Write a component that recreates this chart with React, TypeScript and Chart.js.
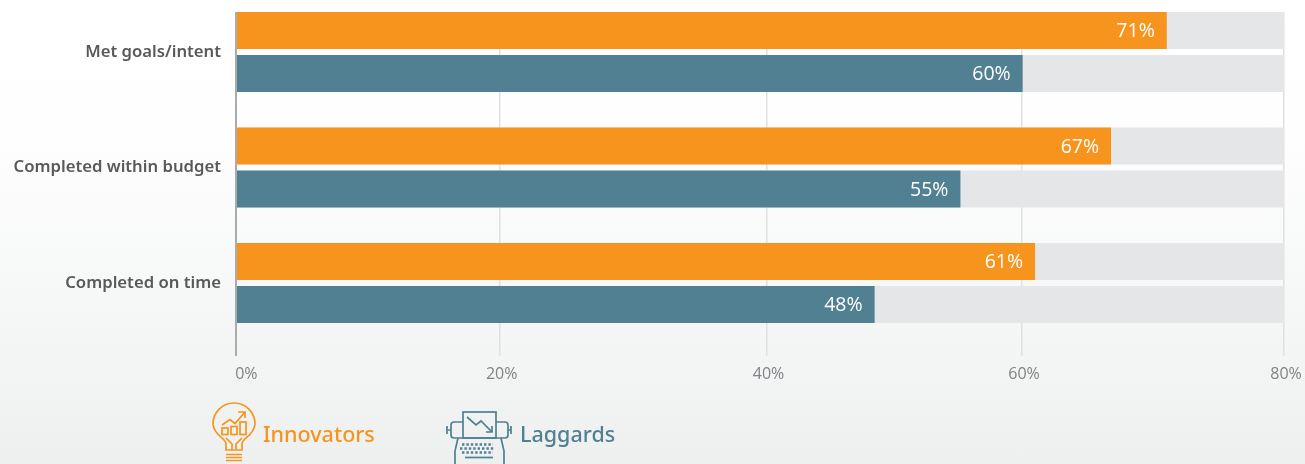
import React, { useEffect, useRef } from "react";
import { Chart, registerables } from "chart.js";

Chart.register(...registerables);

const categories = ["Met goals/intent", "Completed within budget", "Completed on time"];
const rowPositions = [0, 1, 2];
const innovators = [71.05, 66.8, 61];
const laggards = [60.05, 55.3, 48.75];
const innovatorLabels = ["71%", "67%", "61%"];
const laggardLabels = ["60%", "55%", "48%"];
const trackValues = [80, 80, 80];
const tickPositions = [0, 20.13, 40.5, 60, 80];
const tickLabels = ["\u00a0\u00a0\u00a0\u00a00%", "20%", "40%", "60%", "80%"];

const ORANGE = "#f7941d";
const TEAL = "#508092";
const TRACK = "#e5e6e8";

const points = (values: number[]) => values.map((x, i) => ({ x, y: rowPositions[i] }));

const barLabels = {
  id: "barLabels",
  afterDatasetsDraw(chart: any) {
    const { ctx } = chart;
    const sets: [number, string[]][] = [[0, innovatorLabels], [1, laggardLabels]];
    ctx.save();
    ctx.font = "400 19.5px 'Open Sans'";
    ctx.fillStyle = "#ffffff";
    ctx.textAlign = "right";
    ctx.textBaseline = "middle";
    for (const [index, texts] of sets) {
      chart.getDatasetMeta(index).data.forEach((bar: any, i: number) => {
        ctx.fillText(texts[i], bar.x - 12, bar.y + 1);
      });
    }
    ctx.restore();
  },
};

function BulbIcon() {
  return (
    <svg width={60} height={64} style={{ position: "absolute", left: 205, top: 400 }} fill="none" stroke={ORANGE} strokeWidth={1.7}>
      <path d="M21 50 L21 44 C21 38 9 36 8 24 A21 21 0 1 1 50 24 C49 36 37 38 37 44 L37 50 Z" />
      <path d="M21 54.5H37M21 57.5H37M21 60.5H37" />
      <rect x={17} y={28} width={6} height={6.5} />
      <rect x={26} y={26.5} width={6} height={8} />
      <rect x={35} y={22} width={6} height={12.5} />
      <path d="M17 25 L25 19.5 L30 23.5 L40 12 M33 12 H40 V18" />
      <path d="M21 38 L27 44 V50 M37 38 L31 44 V50" />
    </svg>
  );
}

function TypewriterIcon() {
  return (
    <svg width={80} height={59} style={{ position: "absolute", left: 440, top: 405 }} fill="none" stroke={TEAL} strokeWidth={1.7}>
      <rect x={23} y={7} width={33} height={26} />
      <path d="M27 12 L36 20 L41 16 L52 27 M46 27 H52 V21" />
      <path d="M23 17 H14 Q11 17 11 20 V30 Q11 33 14 33 H65 Q68 33 68 30 V20 Q68 17 65 17 H56" />
      <path d="M7 21 V29 M7 25 H11 M71 21 V29 M71 25 H68" />
      <path d="M18 33 L15 46 V59 M61 33 L64 46 V59" />
      <path d="M22 39.5H53M20 43.5H55M22 47.5H53" strokeWidth={2.4} strokeDasharray="2.4 2" />
      <path d="M25 52.5H53" />
    </svg>
  );
}

const legendText = (color: string, left: number): React.CSSProperties => ({
  position: "absolute",
  left,
  top: 418,
  color,
  font: "500 21.5px 'Noto Sans'",
  lineHeight: "32px",
  whiteSpace: "nowrap",
});

export default function App() {
  const ref = useRef<HTMLCanvasElement>(null);

  useEffect(() => {
    const chart = new Chart(ref.current!, {
      type: "bar",
      data: {
        datasets: [
          { label: "Innovators", data: points(innovators), backgroundColor: ORANGE, stack: "a", order: 1 },
          { label: "Laggards", data: points(laggards), backgroundColor: TEAL, stack: "b", order: 1 },
          { label: "Innovators track", data: points(trackValues), backgroundColor: TRACK, stack: "a", order: 2 },
          { label: "Laggards track", data: points(trackValues), backgroundColor: TRACK, stack: "b", order: 2 },
        ],
      },
      plugins: [barLabels],
      options: {
        indexAxis: "y",
        animation: false,
        responsive: false,
        categoryPercentage: 0.745,
        barPercentage: 0.86,
        layout: { padding: { top: 12, right: 21, left: 0, bottom: 0 } },
        plugins: { legend: { display: false }, tooltip: { enabled: false } },
        scales: {
          x: {
            type: "linear",
            position: "bottom",
            stacked: false,
            min: 0,
            max: 80,
            afterBuildTicks: (s: any) => {
              s.ticks = tickPositions.map((value) => ({ value }));
            },
            afterFit: (s: any) => {
              s.height = 108;
              s.paddingLeft = 0;
              s.paddingRight = 0;
            },
            border: { display: false },
            grid: {
              drawTicks: false,
              color: (c: any) => (c.index === 0 ? "#a9abae" : "#dfe0e1"),
              lineWidth: (c: any) => (c.index === 0 ? 2 : 1.5),
            },
            ticks: {
              padding: 9,
              autoSkip: false,
              maxRotation: 0,
              labelOffset: 2,
              color: "#808285",
              font: { family: "'Open Sans'", size: 16 },
              callback: (_v: any, i: number) => tickLabels[i],
            },
          },
          y: {
            type: "linear",
            reverse: true,
            offset: false,
            min: -0.346,
            max: 2.632,
            afterBuildTicks: (s: any) => {
              s.ticks = rowPositions.map((value) => ({ value }));
            },
            afterFit: (s: any) => {
              s.width = 236;
              s.paddingTop = 0;
              s.paddingBottom = 0;
            },
            border: { display: false },
            grid: { display: false, offset: false, drawTicks: false },
            ticks: {
              padding: 15,
              color: "#58595b",
              font: { family: "'Noto Sans'", size: 16.7, weight: "600" },
              callback: (_v: any, i: number) => categories[i],
            },
          },
        },
      } as any,
    });
    return () => chart.destroy();
  }, []);

  return (
    <div
      style={{
        position: "fixed",
        left: 0,
        top: 0,
        width: 1305,
        height: 464,
        overflow: "hidden",
        background: "linear-gradient(180deg, #ffffff 0%, #fefefe 30%, #eef0f0 100%)",
      }}
    >
      <canvas ref={ref} width={1305} height={464} style={{ position: "absolute", left: 0, top: 0 }} />
      <BulbIcon />
      <span style={legendText(ORANGE, 263)}>Innovators</span>
      <TypewriterIcon />
      <span style={legendText(TEAL, 520)}>Laggards</span>
    </div>
  );
}
